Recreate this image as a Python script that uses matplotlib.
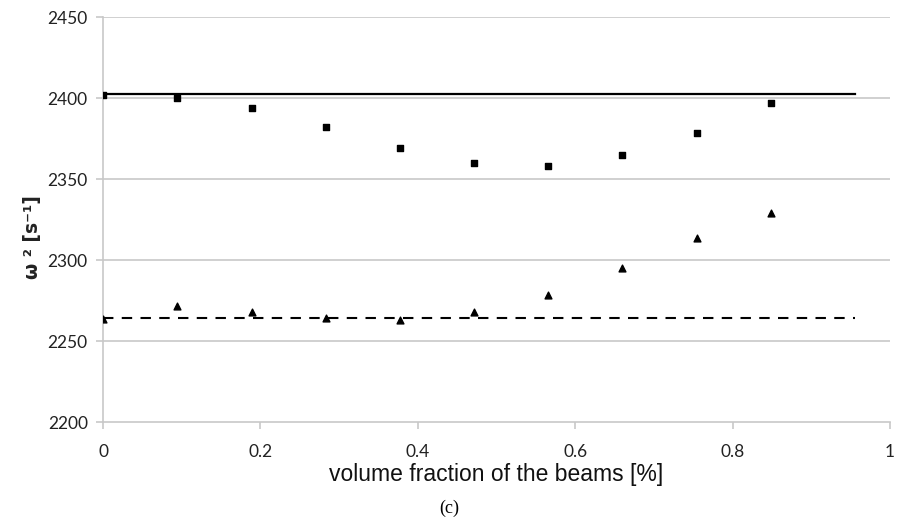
import matplotlib
matplotlib.use("Agg")
import matplotlib.pyplot as plt

# volume fraction of the beams [%]
vf = [0.0, 0.094, 0.189, 0.283, 0.377, 0.472, 0.566, 0.660, 0.755, 0.849]
# omega^2 values
sq_vals = [2402, 2400.4, 2394, 2382, 2369, 2359.7, 2358.2, 2364.8, 2378.2, 2396.7]
tri_vals = [2263.6, 2271.4, 2267.9, 2264, 2263.1, 2267.7, 2278.4, 2295, 2313.6, 2329]
# reference levels
line_x = [0.0, 0.955]
solid_level = 2402.3
dashed_level = 2264

xticks = [0, 0.2, 0.4, 0.6, 0.8, 1]
xticklabels = ["0", "0.2", "0.4", "0.6", "0.8", "1"]
yticks = [2200, 2250, 2300, 2350, 2400, 2450]

fig = plt.figure(figsize=(8.99, 5.21), dpi=100)
ax = fig.add_axes([0.1146, 0.190, 0.8754, 0.777])

grid_col = "#c8c8c8"
for y in yticks[1:]:
    ax.axhline(y, color=grid_col, lw=1.2, zorder=0)

ax.plot(line_x, [solid_level, solid_level], color="black", lw=1.6, zorder=2)
ax.plot(line_x, [dashed_level, dashed_level], color="black", lw=1.5,
        dashes=(5, 4), zorder=2)
ax.scatter(vf, sq_vals, marker="s", s=20, color="black", zorder=3)
ax.scatter(vf, tri_vals, marker="^", s=24, color="black", zorder=3)

ax.set_xlim(0, 1)
ax.set_ylim(2200, 2450)
ax.set_xticks(xticks)
ax.set_xticklabels(xticklabels)
ax.set_yticks(yticks)

for s in ["top", "right"]:
    ax.spines[s].set_visible(False)
for s in ["left", "bottom"]:
    ax.spines[s].set_color(grid_col)
    ax.spines[s].set_linewidth(1.2)

ax.tick_params(axis="both", colors=grid_col, length=5, width=1.2,
               labelcolor="#222222", labelsize=12.5)
ax.tick_params(axis="x", pad=11)
ax.tick_params(axis="y", pad=6)
for lab in ax.get_xticklabels() + ax.get_yticklabels():
    lab.set_family("Lato")

ax.set_xlabel("volume fraction of the beams [%]", fontsize=16.5,
              family="Liberation Sans", labelpad=2, color="#111111")
ax.set_ylabel("ω ² [s⁻¹]", fontsize=13.5, fontweight="bold",
              family="DejaVu Sans", color="#222222")
ax.yaxis.set_label_coords(-0.078, 0.457)

fig.text(0.5, 0.008, "(c)", ha="center", va="bottom", fontsize=13,
         family="Liberation Serif")

fig.savefig("out.png", dpi=100)
